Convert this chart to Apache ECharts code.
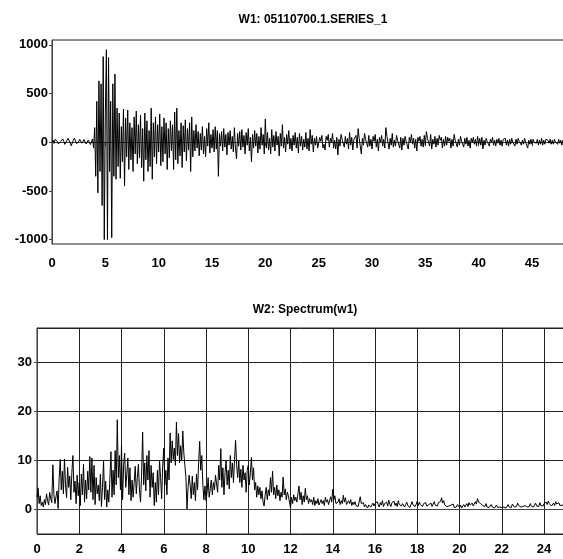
<!DOCTYPE html>
<html>
<head>
<meta charset="utf-8">
<script src="https://cdn.jsdelivr.net/npm/echarts@6/dist/echarts.min.js"></script>
<style>
  html, body { margin: 0; padding: 0; background: #fff; }
  #chart { width: 563px; height: 559px; }
</style>
</head>
<body>
<div id="chart"></div>
<script>
// W1: seismogram trace, one value every 0.1 s (row = 1 s)
const traceStep = 0.1;
const trace = [
  0, 22, -12, 30, 36, 8, -18, -32, 6, 26,
  34, 12, -22, -10, 18, 40, 26, -6, -36, -16,
  20, 42, 22, -14, -28, 4, 30, 16, -10, 8,
  28, 10, -18, -6, 22, 14, -24, -4, 34, -60,
  150, -350, 420, -520, 630, -300, 600, -650, 880, -1000,
  300, 950, -1000, 870, -300, 420, -980, 600, -350, 700,
  -380, 350, -250, 300, -370, 160, -200, 340, -450, 250,
  -150, 330, -280, 200, -180, 150, -300, 260, -120, 320,
  -220, 180, -160, 280, -260, 140, -400, 300, -180, 220,
  -300, 120, -250, 350, -380, 200, -150, 260, -220, 180,
  -100, 290, -240, 160, -200, 250, -120, 200, -280, 140,
  -160, 220, -90, 180, -280, 310, -180, 350, -220, 120,
  -140, 200, -260, 170, -100, 230, -190, 140, -80, 200,
  -300, 260, -150, 120, -90, 180, -60, 110, -140, 90,
  -80, 160, -120, 60, -150, 140, -40, 200, -110, 80,
  -60, 130, -100, 160, -70, 120, -350, 90, -40, 110,
  -90, 140, -50, 80, -130, 100, -30, 120, -70, 60,
  -100, 150, -60, -170, 90, -40, 110, -80, 130, -50,
  70, -120, 100, -30, 140, -90, 50, -200, 80, -60,
  120, -40, 90, -110, 60, -70, 150, -30, 80, -120,
  240, -60, 100, -80, 40, -120, 130, -50, 70, -90,
  110, -30, 60, -140, 90, -40, 180, -60, 50, -100,
  80, -20, 120, -70, 40, -90, 70, -30, 100, -60,
  50, -110, 90, -40, 60, -80, 30, -50, 100, -70,
  40, -90, 130, -20, 70, -100, 40, -30, 60, -60,
  -40, 50, 10, 70, -60, -20, -80, 60, 20, 80,
  -50, 40, 0, 90, -60, 20, -70, 50, -130, 30,
  -40, 80, 30, 20, -50, 60, -20, 40, -70, 100,
  -30, 50, -80, 30, 10, 70, -60, 140, 40, 60,
  -120, 40, -30, 90, 30, 20, -50, 70, -40, 30,
  -70, 60, 10, 80, -50, 30, -90, 50, 0, 70,
  -40, 30, -60, 150, 60, 60, -70, 40, -30, 90,
  -50, 20, -40, 70, 20, 30, -60, 50, -80, 40,
  -30, 60, 10, 20, -70, 50, 0, 80, -20, 40,
  -60, 30, -90, 50, 10, 60, -40, 30, -50, 70,
  -30, 110, 40, 20, -40, 80, -70, 30, -20, 60,
  -50, 40, -30, 70, 20, 50, -60, 30, -40, 60,
  -30, 50, 10, 40, -60, 30, -40, 80, 20, 40,
  -50, 30, -30, 60, 10, 20, -50, 40, -20, 50,
  -40, 20, -60, 40, 0, 50, -20, 30, -40, 60,
  -20, 40, -30, 50, -70, 20, -30, 40, 10, 30,
  -40, 30, 0, 50, -30, 20, -40, 30, -10, 40,
  -30, 20, -40, 30, 10, 40, -30, 20, -40, 30,
  -20, 40, 0, 20, -40, 30, -20, 40, 10, 20,
  -30, 20, -20, 40, 0, 10, -60, 20, -20, 30,
  -20, 30, 0, 20, -10, 30, -30, 20, -20, 40,
  -30, 20, -20, 30, 10, 20, -10, 30, -20, 20,
  -20, 30, 0, 20, -20, 30, -10, 20, -30, 20,
  0
];

// W2: amplitude spectrum, one value every 0.05 Hz (row = 1 Hz)
const specStep = 0.05;
const spectrum = [
  2.5, 4.4, 1.2, 2.8, 0.8, 1.5, 0.5, 2.0, 1.0, 3.2, 1.8, 0.9, 3.5, 2.2, 1.4, 9.1, 3.0, 1.2, 2.6, 3.8,
  0.2, 6.5, 10.2, 4.0, 7.8, 3.2, 10.3, 5.0, 2.4, 8.6, 4.5, 6.8, 2.0, 7.5, 11.0, 3.5, 5.8, 1.2, 7.0, 2.8,
  5.5, 0.8, 7.2, 3.0, 9.2, 1.5, 6.0, 2.2, 7.8, 4.0, 10.8, 3.5, 10.5, 2.0, 9.0, 1.0, 6.5, 3.2, 5.0, 1.8,
  7.2, 0.6, 4.5, 10.0, 2.0, 5.8, 0.5, 4.0, 1.5, 6.2, 11.8, 2.5, 8.0, 3.0, 12.0, 5.0, 18.3, 6.5, 11.0, 4.0,
  13.0, 2.0, 9.0, 11.5, 4.5, 7.2, 10.5, 3.0, 8.5, 1.8, 6.0, 2.5, 5.5, 8.8, 3.2, 6.5, 9.2, 4.0, 1.5, 7.0,
  15.8, 5.0, 9.5, 3.8, 11.0, 6.0, 12.0, 2.5, 9.0, 4.5, 7.5, 0.8, 5.5, 1.5, 8.0, 3.0, 10.0, 6.5, 2.2, 9.0,
  12.5, 5.0, 8.0, 3.0, 10.5, 6.0, 15.6, 9.5, 14.0, 10.2, 12.5, 9.0, 17.8, 11.0, 15.5, 9.5, 13.0, 10.0, 16.0, 11.5,
  9.0, 6.5, 0.1, 4.5, 7.0, 5.0, 2.2, 6.8, 3.0, 5.5, 1.8, 7.2, 4.0, 9.5, 13.9, 8.0, 11.0, 5.0, 2.0, 4.8,
  1.8, 3.5, 6.5, 2.5, 4.2, 6.0, 3.0, 5.5, 4.0, 7.0, 5.2, 3.5, 9.0, 6.0, 12.4, 4.5, 8.5, 3.0, 7.5, 10.0,
  5.0, 8.0, 4.2, 11.0, 6.5, 9.5, 5.5, 10.2, 14.1, 9.0, 6.5, 10.0, 5.5, 8.2, 4.5, 9.0, 6.0, 7.5, 3.5, 8.0,
  9.0, 5.0, 7.5, 10.6, 6.0, 8.5, 4.0, 5.5, 2.5, 4.8, 3.0, 4.5, 2.2, 3.8, 1.5, 0.7, 3.0, 4.5, 2.0, 4.0,
  2.8, 6.5, 3.5, 7.8, 3.0, 4.5, 2.2, 5.0, 2.8, 4.0, 1.8, 3.5, 2.5, 6.6, 3.0, 4.2, 2.0, 3.5, 2.8, 1.5,
  0.3, 2.5, 1.2, 3.0, 1.8, 2.5, 1.5, 3.2, 4.8, 2.0, 3.5, 1.0, 2.8, 1.5, 4.3, 2.0, 2.8, 1.2, 2.2, 1.5,
  2.0, 1.0, 2.5, 0.8, 1.8, 1.2, 2.2, 0.9, 1.5, 2.0, 1.2, 1.8, 0.8, 2.5, 1.5, 2.0, 1.0, 1.8, 2.6, 1.5,
  4.1, 2.0, 2.8, 1.2, 0.8, 1.5, 2.2, 1.0, 1.8, 1.2, 2.9, 1.5, 2.4, 1.0, 0.6, 1.8, 1.2, 2.0, 0.8, 1.5,
  1.0, 1.6, 0.8, 1.2, 0.6, 1.0, 2.6, 1.2, 0.8, 1.4, 0.5, 1.0, 0.6, 0.3, 0.9, 1.2, 0.5, 0.8, 1.3, 0.7,
  1.2, 0.8, 1.6, 1.0, 0.5, 1.4, 0.9, 1.8, 0.6, 1.2, 1.0, 1.5, 0.7, 1.9, 1.1, 0.6, 1.4, 1.0, 1.7, 0.8,
  1.3, 0.6, 1.8, 1.0, 1.4, 0.7, 1.2, 1.6, 0.5, 1.0, 1.5, 0.8, 1.2, 0.4, 1.0, 1.6, 0.9, 1.3, 0.6, 1.1,
  1.7, 0.8, 1.5, 1.0, 1.3, 0.6, 1.2, 0.9, 1.4, 0.7, 0.5, 1.0, 0.8, 1.3, 0.6, 1.1, 1.6, 0.9, 1.2, 0.7,
  1.4, 1.0, 1.6, 2.4, 1.3, 1.8, 0.9, 1.2, 0.6, 1.0, 0.7, 0.5, 0.9, 0.6, 1.1, 0.4, 0.8, 0.5, 1.0, 0.7,
  0.4, 0.9, 0.3, 0.6, 1.0, 0.5, 0.8, 1.2, 0.6, 1.4, 0.9, 0.5, 1.3, 0.7, 1.0, 1.6, 1.1, 2.2, 1.5, 1.8,
  1.2, 1.5, 0.8, 1.0, 0.6, 1.2, 0.5, 0.9, 0.4, 0.7, 1.0, 0.5, 0.8, 0.3, 0.6, 0.9, 0.4, 0.7, 0.5, 0.8,
  0.4, 0.7, 0.5, 0.9, 0.3, 0.6, 1.0, 0.5, 0.8, 0.4, 1.1, 0.7, 0.5, 0.9, 0.6, 1.3, 0.8, 1.0, 0.5, 0.9,
  0.6, 0.4, 0.8, 1.1, 0.5, 0.9, 0.6, 1.2, 0.7, 1.0, 0.5, 0.8, 1.3, 0.7, 1.0, 0.6, 1.4, 0.8, 1.0, 0.7,
  1.2, 0.8, 1.5, 1.0, 1.7, 1.2, 1.5, 0.7, 1.0, 1.3, 0.8, 1.6, 1.1, 0.9, 1.4, 0.8, 1.2, 0.9, 1.0, 0.8,
  0.9
];

const titles = ['W1: 05110700.1.SERIES_1', 'W2: Spectrum(w1)'];

const font = '"Liberation Sans", Arial, sans-serif';
const labelStyle = {
  color: '#000', fontWeight: 'bold', fontSize: 13, fontFamily: font,
  formatter: (v) => String(v),
};
const axisLine = { show: true, lineStyle: { color: '#444', width: 1 } };

const chart = echarts.init(document.getElementById('chart'), null, { renderer: 'canvas' });

// plots run past the right edge of the window, as in the original
const option = {
  animation: false,
  backgroundColor: '#fff',
  title: [
    { text: titles[0], left: 308, top: 9, textAlign: 'center',
      textStyle: { fontSize: 12, fontWeight: 'bold', color: '#000', fontFamily: font } },
    { text: titles[1], left: 300, top: 299, textAlign: 'center',
      textStyle: { fontSize: 12, fontWeight: 'bold', color: '#000', fontFamily: font } },
  ],
  grid: [
    { left: 52, top: 40, width: 520, height: 204, outerBoundsMode: 'none',
      show: true, borderColor: '#222', borderWidth: 1 },
    { left: 37, top: 328, width: 540, height: 206, outerBoundsMode: 'none',
      show: true, borderColor: '#222', borderWidth: 1 },
  ],
  xAxis: [
    {
      gridIndex: 0, type: 'value', min: 0, max: 48.75, interval: 5,
      axisLine, axisTick: { show: true, length: 4, lineStyle: { color: '#444' } },
      axisLabel: { ...labelStyle, margin: 13, showMaxLabel: false },
      splitLine: { show: false },
    },
    {
      gridIndex: 1, type: 'value', min: 0, max: 25.56, interval: 2,
      axisLine, axisTick: { show: false },
      axisLabel: { ...labelStyle, margin: 9, showMaxLabel: false },
      splitLine: { show: true, lineStyle: { color: '#222', width: 1 } },
    },
  ],
  yAxis: [
    {
      gridIndex: 0, type: 'value', min: -1045, max: 1050,
      axisLine, axisTick: { show: true, length: 3, lineStyle: { color: '#444' } },
      axisLabel: { ...labelStyle, margin: 4, showMinLabel: false, showMaxLabel: false },
      splitLine: { show: false },
    },
    {
      gridIndex: 1, type: 'value', min: -5, max: 37,
      axisLine, axisTick: { show: true, length: 3, lineStyle: { color: '#444' } },
      axisLabel: { ...labelStyle, margin: 5, showMinLabel: false, showMaxLabel: false },
      splitLine: { show: true, lineStyle: { color: '#222', width: 1 } },
    },
  ],
  series: [
    {
      type: 'line', xAxisIndex: 0, yAxisIndex: 0,
      data: trace.map((v, i) => [i * traceStep, v]),
      showSymbol: false, sampling: null, clip: true,
      lineStyle: { color: '#000', width: 1 },
    },
    {
      type: 'line', xAxisIndex: 1, yAxisIndex: 1,
      data: spectrum.map((v, i) => [i * specStep, v]),
      showSymbol: false, sampling: null, clip: true,
      lineStyle: { color: '#000', width: 1 },
    },
  ],
};

chart.setOption(option);
</script>
</body>
</html>
